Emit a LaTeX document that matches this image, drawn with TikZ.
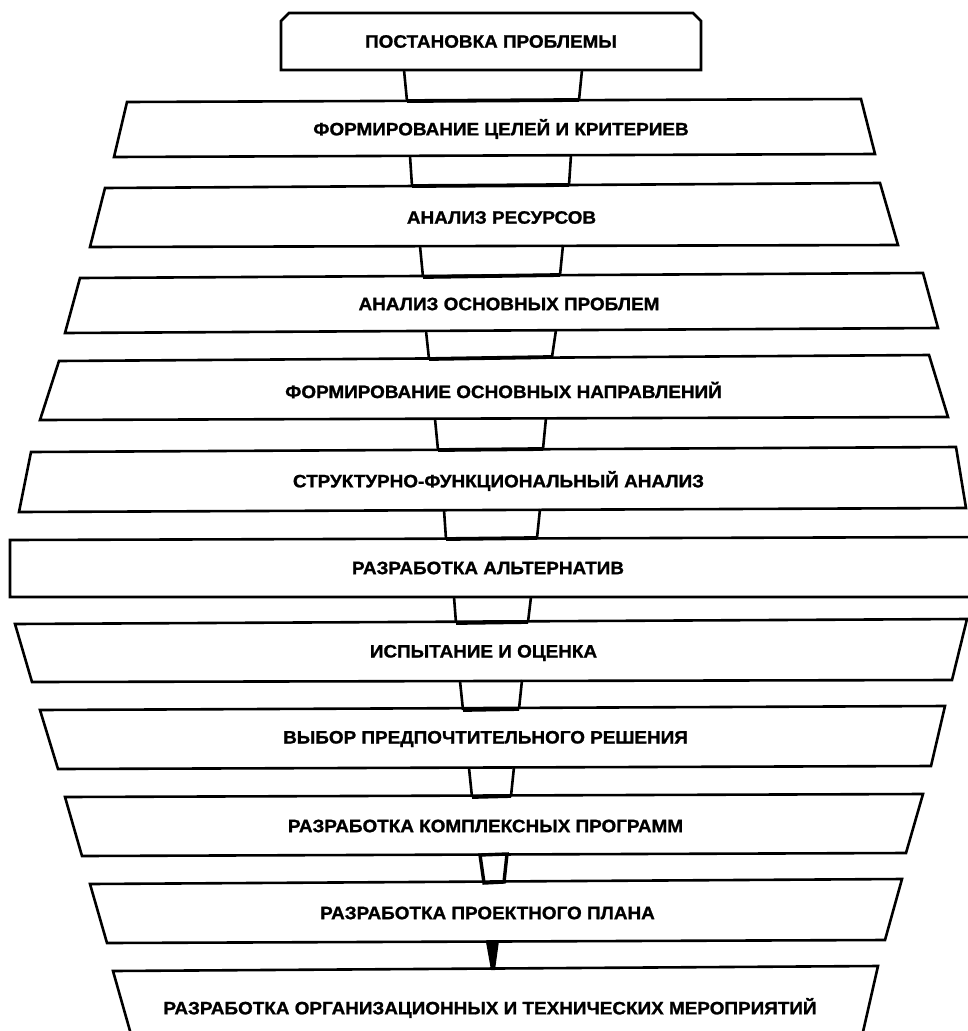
\documentclass[tikz,border=0pt]{standalone}
\usepackage{fontspec}
\setmainfont[FakeStretch=1.05, BoldFeatures={FakeBold=1.2}]{Liberation Sans}
\usetikzlibrary{calc}
\newcommand\qbox[6]{%
  \coordinate (#1tl) at (#2); \coordinate (#1tr) at (#3);
  \coordinate (#1br) at (#4); \coordinate (#1bl) at (#5);
  \draw[boxline] (#1tl) -- (#1tr) -- (#1br) -- (#1bl) -- cycle;
  \node[lbl] (#1) at ($(#1tl)!0.5!(#1br)+(0,1)$) {#6};}
\newcommand\cnn[5]{%
  \coordinate (#1tl) at (#2); \coordinate (#1tr) at (#3);
  \coordinate (#1br) at (#4); \coordinate (#1bl) at (#5);
  \draw[connline] (#1tl) -- (#1bl);
  \draw[connline] (#1tr) -- (#1br);
  \draw[connbase] (#1bl) -- (#1br);}
\begin{document}
\begin{tikzpicture}[x=1pt,y=-1pt,
  boxline/.style={line width=2.6pt, line join=miter, fill=white},
  connline/.style={line width=2.6pt},
  connbase/.style={line width=3.8pt},
  lbl/.style={font=\fontsize{18}{18}\selectfont\bfseries, inner sep=0pt, anchor=center}]
\useasboundingbox[fill=white] (0,0) rectangle (968,1031);
\clip (0,0) rectangle (968,1031);
% top box with chamfered upper corners
\coordinate (b1tl) at (281,13); \coordinate (b1tr) at (701,13);
\coordinate (b1br) at (701,70); \coordinate (b1bl) at (281,70);
\draw[boxline] ($(b1bl)$) -- ($(b1tl)+(0,8)$) -- ($(b1tl)+(8,0)$) -- ($(b1tr)+(-8,0)$) -- ($(b1tr)+(0,8)$) -- (b1br) -- cycle;
\node[lbl] (b1) at ($(b1tl)!0.5!(b1br)$) {ПОСТАНОВКА ПРОБЛЕМЫ};
\qbox{b2}{127,102}{861,99}{875,154}{114,157}{ФОРМИРОВАНИЕ ЦЕЛЕЙ И КРИТЕРИЕВ}
\qbox{b3}{105,188}{880,183}{898,245}{90,247}{АНАЛИЗ РЕСУРСОВ}
\qbox{b4}{80,278}{923,273}{938,328}{65,333}{АНАЛИЗ ОСНОВНЫХ ПРОБЛЕМ}
\qbox{b5}{59,361}{929,355}{948,417}{40,420}{ФОРМИРОВАНИЕ ОСНОВНЫХ НАПРАВЛЕНИЙ}
\qbox{b6}{31,452}{956,447}{966,508}{19,512}{СТРУКТУРНО-ФУНКЦИОНАЛЬНЫЙ АНАЛИЗ}
\qbox{b7}{10,540}{990,537}{990,597}{10,597}{}
\node[lbl] (b7) at (488,568) {РАЗРАБОТКА АЛЬТЕРНАТИВ};
\qbox{b8}{15,624}{967,619}{952,680}{32,682}{ИСПЫТАНИЕ И ОЦЕНКА}
\qbox{b9}{40,710}{945,706}{931,766}{58,769}{ВЫБОР ПРЕДПОЧТИТЕЛЬНОГО РЕШЕНИЯ}
\qbox{b10}{65,797}{923,794}{906,853}{82,856}{РАЗРАБОТКА КОМПЛЕКСНЫХ ПРОГРАММ}
\qbox{b11}{90,884}{902,879}{885,940}{107,943}{РАЗРАБОТКА ПРОЕКТНОГО ПЛАНА}
% last box, open at the bottom
\coordinate (b12tl) at (113,971); \coordinate (b12tr) at (878,966);
\coordinate (b12br) at (860,1045); \coordinate (b12bl) at (134,1045);
\draw[boxline] (b12bl) -- (b12tl) -- (b12tr) -- (b12br);
\node[lbl] (b12) at (490,1008) {РАЗРАБОТКА ОРГАНИЗАЦИОННЫХ И ТЕХНИЧЕСКИХ МЕРОПРИЯТИЙ};
% connectors
\cnn{c1}{404,70}{582,70}{579,100}{407,101}
\cnn{c2}{410,156}{571,155}{569,185}{412,186}
\cnn{c3}{420,246}{563,245}{560,275}{423,277}
\cnn{c4}{426,331}{556,330}{552,357}{429,359}
\cnn{c5}{435,419}{546,418}{543,449}{438,450}
\cnn{c6}{444,510}{540,509}{537,538}{446,539}
\cnn{c7}{454,597}{531,597}{528,622}{456,623}
\cnn{c8}{460,681}{522,680}{519,709}{463,710}
\cnn{c9}{469,768}{514,767}{511,796}{472,797}
\coordinate (c10tl) at (480,855); \coordinate (c10tr) at (507,854);
\coordinate (c10br) at (504,882); \coordinate (c10bl) at (484,883);
\draw[line width=3.4pt, line join=miter] (c10tl) -- (c10tr) -- (c10br) -- (c10bl) -- cycle;
% tapered solid link
\coordinate (c11tl) at (486,942); \coordinate (c11tr) at (499,941);
\coordinate (c11br) at (495,970); \coordinate (c11bl) at (491,970);
\fill (c11tl) -- (c11tr) -- (c11br) -- (c11bl) -- cycle;
\end{tikzpicture}
\end{document}
